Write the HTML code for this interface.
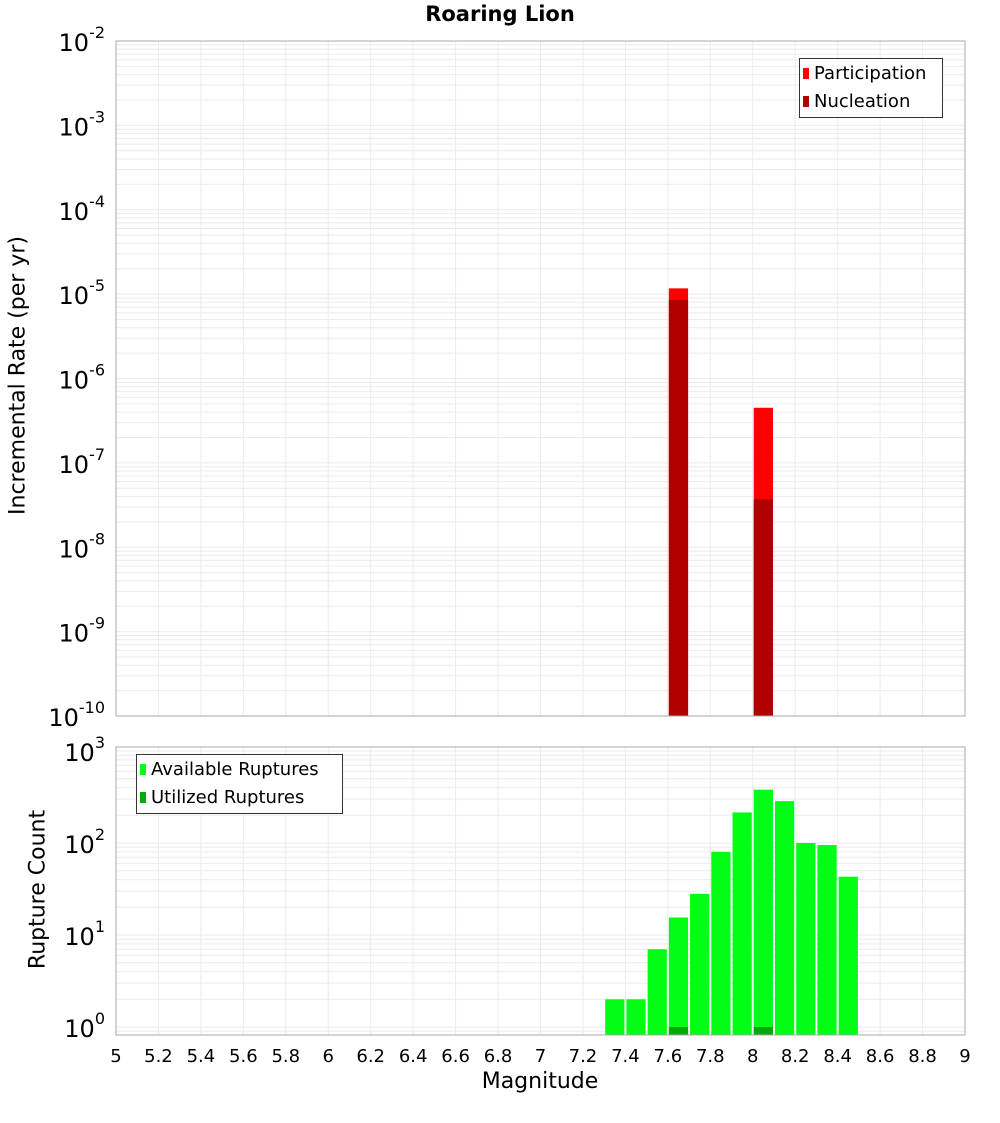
<!DOCTYPE html>
<html><head><meta charset="utf-8"><style>
body{margin:0;background:#fff;font-family:"DejaVu Sans","Liberation Sans",sans-serif}
svg text{font-family:"DejaVu Sans","Liberation Sans",sans-serif}
</style></head><body>
<svg id="c" width="1000" height="1100" xmlns="http://www.w3.org/2000/svg"></svg>
<script>
const topBins=[7.65,8.05];
const participation=[1.17e-5,4.5e-7];
const nucleation=[8.5e-6,3.7e-8];
const botBins=[7.35,7.45,7.55,7.65,7.75,7.85,7.95,8.05,8.15,8.25,8.35,8.45];
const available=[2,2,7,15.5,28,80,215,380,285,100,95,43];
const utilBins=[7.65,8.05];
const utilized=[1,1];
const xTicks=[5,5.2,5.4,5.6,5.8,6,6.2,6.4,6.6,6.8,7,7.2,7.4,7.6,7.8,8,8.2,8.4,8.6,8.8,9];
const topExp=[-2,-3,-4,-5,-6,-7,-8,-9,-10];
const botExp=[0,1,2,3];

const svg=document.getElementById('c');const NS='http://www.w3.org/2000/svg';
function el(t,a,p){const e=document.createElementNS(NS,t);for(const k in a)e.setAttribute(k,a[k]);(p||svg).appendChild(e);return e;}
const X0=116,X1=965;
const xs=v=>X0+(v-5)/4*(X1-X0);
const T0=41,T1=716;const yt=v=>T0+(-2-Math.log10(v))*84.375;
const B0=747,B1=1035;const yb=v=>1027-Math.log10(v)*92;

function grid(y0,y1,ys,emin,emax,name){
 const g=el('g',{});
 for(let e=emin;e<=emax;e++)for(let m=1;m<10;m++){const y=ys(m*Math.pow(10,e));if(y>=y0&&y<=y1)el('line',{x1:X0,x2:X1,y1:y,y2:y,stroke:'#ebebeb','stroke-width':1},g);}
 xTicks.forEach(t=>{const x=xs(t);el('line',{x1:x,x2:x,y1:y0,y2:y1,stroke:'#ebebeb','stroke-width':1},g);});
}
grid(T0,T1,yt,-10,-2,'top-grid');
grid(B0,B1,yb,-1,3,'bottom-grid');

const bw=(xs(5.1)-xs(5));
function bar(c,v,ys,base,fill,name){const r=el('rect',{x:xs(c)-bw/2+1,width:bw-2,y:ys(v),height:base-ys(v),fill:fill});}
topBins.forEach((c,i)=>bar(c,participation[i],yt,T1,'#ff0000','participation-bar'));
topBins.forEach((c,i)=>bar(c,nucleation[i],yt,T1,'#b00000','nucleation-bar'));
botBins.forEach((c,i)=>bar(c,available[i],yb,B1,'#00ff14','available-bar'));
utilBins.forEach((c,i)=>bar(c,utilized[i],yb,B1,'#00aa0a','utilized-bar'));

const f1=el('rect',{x:X0,y:T0,width:X1-X0,height:T1-T0,fill:'none',stroke:'#aaa'});
const f2=el('rect',{x:X0,y:B0,width:X1-X0,height:B1-B0,fill:'none',stroke:'#aaa'});

function ylab(e,y,name){const t=el('text',{x:105,y:y+10,'text-anchor':'end','font-size':24,fill:'#000'});t.textContent='10';const s=el('tspan',{dy:-13,'font-size':16},t);s.textContent=e;}
topExp.forEach(e=>ylab(e,yt(Math.pow(10,e)),'top-y-tick'));
botExp.forEach(e=>ylab(e,yb(Math.pow(10,e)),'bottom-y-tick'));
xTicks.forEach(t=>{const tx=el('text',{x:xs(t),y:1062,'text-anchor':'middle','font-size':18,fill:'#000'});tx.textContent=String(t);});
</script>
<svg width="0" height="0"></svg>
<div style="position:absolute;left:0;top:2px;width:1000px;text-align:center;font:bold 21px 'DejaVu Sans','Liberation Sans',sans-serif">Roaring Lion</div>
<div style="position:absolute;left:440px;top:1069px;width:200px;text-align:center;font:22px 'DejaVu Sans','Liberation Sans',sans-serif">Magnitude</div>
<div style="position:absolute;left:-182px;top:363px;width:400px;text-align:center;transform:rotate(-90deg);font:22px 'DejaVu Sans','Liberation Sans',sans-serif">Incremental Rate (per yr)</div>
<div style="position:absolute;left:-162px;top:877px;width:400px;text-align:center;transform:rotate(-90deg);font:22px 'DejaVu Sans','Liberation Sans',sans-serif">Rupture Count</div>
<div style="position:absolute;left:799px;top:58px;width:142px;height:58px;border:1px solid #333;background:#fff;font:18px 'DejaVu Sans','Liberation Sans',sans-serif">
 <div style="position:absolute;left:3px;top:4px;white-space:nowrap"><span style="display:inline-block;width:6px;height:11px;background:#f00;margin-right:5px"></span>Participation</div>
 <div style="position:absolute;left:3px;top:32px;white-space:nowrap"><span style="display:inline-block;width:6px;height:11px;background:#b00000;margin-right:5px"></span>Nucleation</div>
</div>
<div style="position:absolute;left:136px;top:754px;width:205px;height:58px;border:1px solid #333;background:#fff;font:18px 'DejaVu Sans','Liberation Sans',sans-serif">
 <div style="position:absolute;left:3px;top:4px;white-space:nowrap"><span style="display:inline-block;width:6px;height:11px;background:#00ff14;margin-right:5px"></span>Available Ruptures</div>
 <div style="position:absolute;left:3px;top:32px;white-space:nowrap"><span style="display:inline-block;width:6px;height:11px;background:#00aa0a;margin-right:5px"></span>Utilized Ruptures</div>
</div>
</body></html>
